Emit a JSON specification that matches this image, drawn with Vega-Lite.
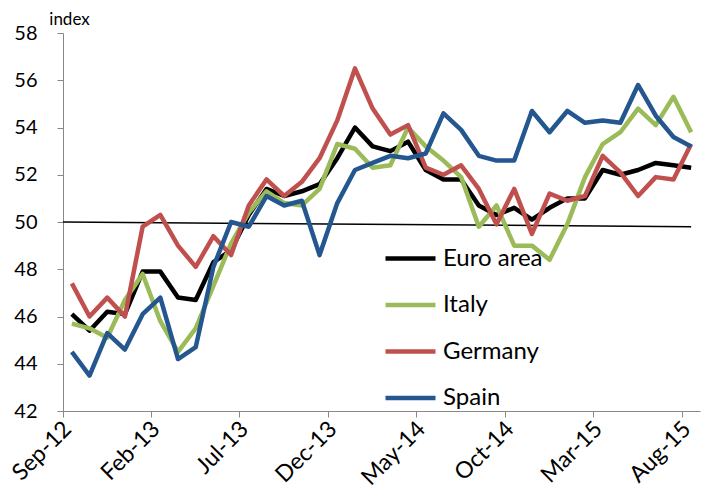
{
  "$schema": "https://vega.github.io/schema/vega-lite/v6.json",
  "width": 637,
  "height": 378,
  "autosize": "none",
  "padding": {"left": 63, "top": 33, "right": 2, "bottom": 92},
  "background": "white",
  "config": {"view": {"stroke": null}, "font": "Lato"},
  "datasets": {
    "pmi": [
      {"month": "Sep-12", "Euro area": 46.1, "Italy": 45.7, "Germany": 47.4, "Spain": 44.5},
      {"month": "Oct-12", "Euro area": 45.4, "Italy": 45.5, "Germany": 46.0, "Spain": 43.5},
      {"month": "Nov-12", "Euro area": 46.2, "Italy": 45.1, "Germany": 46.8, "Spain": 45.3},
      {"month": "Dec-12", "Euro area": 46.1, "Italy": 46.7, "Germany": 46.0, "Spain": 44.6},
      {"month": "Jan-13", "Euro area": 47.9, "Italy": 47.8, "Germany": 49.8, "Spain": 46.1},
      {"month": "Feb-13", "Euro area": 47.9, "Italy": 45.8, "Germany": 50.3, "Spain": 46.8},
      {"month": "Mar-13", "Euro area": 46.8, "Italy": 44.5, "Germany": 49.0, "Spain": 44.2},
      {"month": "Apr-13", "Euro area": 46.7, "Italy": 45.5, "Germany": 48.1, "Spain": 44.7},
      {"month": "May-13", "Euro area": 48.3, "Italy": 47.3, "Germany": 49.4, "Spain": 48.1},
      {"month": "Jun-13", "Euro area": 48.8, "Italy": 49.1, "Germany": 48.6, "Spain": 50.0},
      {"month": "Jul-13", "Euro area": 50.3, "Italy": 50.4, "Germany": 50.7, "Spain": 49.8},
      {"month": "Aug-13", "Euro area": 51.4, "Italy": 51.3, "Germany": 51.8, "Spain": 51.1},
      {"month": "Sep-13", "Euro area": 51.1, "Italy": 50.8, "Germany": 51.1, "Spain": 50.7},
      {"month": "Oct-13", "Euro area": 51.3, "Italy": 50.7, "Germany": 51.7, "Spain": 50.9},
      {"month": "Nov-13", "Euro area": 51.6, "Italy": 51.4, "Germany": 52.7, "Spain": 48.6},
      {"month": "Dec-13", "Euro area": 52.7, "Italy": 53.3, "Germany": 54.3, "Spain": 50.8},
      {"month": "Jan-14", "Euro area": 54.0, "Italy": 53.1, "Germany": 56.5, "Spain": 52.2},
      {"month": "Feb-14", "Euro area": 53.2, "Italy": 52.3, "Germany": 54.8, "Spain": 52.5},
      {"month": "Mar-14", "Euro area": 53.0, "Italy": 52.4, "Germany": 53.7, "Spain": 52.8},
      {"month": "Apr-14", "Euro area": 53.4, "Italy": 54.0, "Germany": 54.1, "Spain": 52.7},
      {"month": "May-14", "Euro area": 52.2, "Italy": 53.2, "Germany": 52.3, "Spain": 52.9},
      {"month": "Jun-14", "Euro area": 51.8, "Italy": 52.6, "Germany": 52.0, "Spain": 54.6},
      {"month": "Jul-14", "Euro area": 51.8, "Italy": 51.9, "Germany": 52.4, "Spain": 53.9},
      {"month": "Aug-14", "Euro area": 50.7, "Italy": 49.8, "Germany": 51.4, "Spain": 52.8},
      {"month": "Sep-14", "Euro area": 50.3, "Italy": 50.7, "Germany": 49.9, "Spain": 52.6},
      {"month": "Oct-14", "Euro area": 50.6, "Italy": 49.0, "Germany": 51.4, "Spain": 52.6},
      {"month": "Nov-14", "Euro area": 50.1, "Italy": 49.0, "Germany": 49.5, "Spain": 54.7},
      {"month": "Dec-14", "Euro area": 50.6, "Italy": 48.4, "Germany": 51.2, "Spain": 53.8},
      {"month": "Jan-15", "Euro area": 51.0, "Italy": 49.9, "Germany": 50.9, "Spain": 54.7},
      {"month": "Feb-15", "Euro area": 51.0, "Italy": 51.9, "Germany": 51.1, "Spain": 54.2},
      {"month": "Mar-15", "Euro area": 52.2, "Italy": 53.3, "Germany": 52.8, "Spain": 54.3},
      {"month": "Apr-15", "Euro area": 52.0, "Italy": 53.8, "Germany": 52.1, "Spain": 54.2},
      {"month": "May-15", "Euro area": 52.2, "Italy": 54.8, "Germany": 51.1, "Spain": 55.8},
      {"month": "Jun-15", "Euro area": 52.5, "Italy": 54.1, "Germany": 51.9, "Spain": 54.5},
      {"month": "Jul-15", "Euro area": 52.4, "Italy": 55.3, "Germany": 51.8, "Spain": 53.6},
      {"month": "Aug-15", "Euro area": 52.3, "Italy": 53.8, "Germany": 53.3, "Spain": 53.2}
    ],
    "ref": [
      {"month": "Sep-12", "month_end": "Aug-15", "level": 50.0, "level_end": 49.8}
    ]
  },
  "encoding": {
    "x": {
      "field": "month",
      "type": "ordinal",
      "scale": {
        "domain": ["Sep-12","Oct-12","Nov-12","Dec-12","Jan-13","Feb-13","Mar-13","Apr-13","May-13","Jun-13","Jul-13","Aug-13","Sep-13","Oct-13","Nov-13","Dec-13","Jan-14","Feb-14","Mar-14","Apr-14","May-14","Jun-14","Jul-14","Aug-14","Sep-14","Oct-14","Nov-14","Dec-14","Jan-15","Feb-15","Mar-15","Apr-15","May-15","Jun-15","Jul-15","Aug-15"],
        "paddingInner": 0,
        "paddingOuter": 0
      },
      "axis": {
        "title": null,
        "values": ["Sep-12","Feb-13","Jul-13","Dec-13","May-14","Oct-14","Mar-15","Aug-15"],
        "bandPosition": 0,
        "labelAngle": -45,
        "labelAlign": "right",
        "labelBaseline": "middle",
        "labelOffset": -4,
        "labelPadding": 8,
        "labelFontSize": 23,
        "labelColor": "#000000",
        "tickSize": 6,
        "tickColor": "#888888",
        "domainColor": "#888888",
        "labelOverlap": false
      }
    }
  },
  "layer": [
    {
      "data": {"name": "ref"},
      "mark": {"type": "rule", "color": "#000000", "strokeWidth": 1.5},
      "encoding": {
        "x": {"field": "month", "type": "ordinal", "bandPosition": 0},
        "x2": {"field": "month_end"},
        "y": {"field": "level", "type": "quantitative"},
        "y2": {"field": "level_end"}
      }
    },
    {
      "data": {"name": "pmi"},
      "transform": [
        {"fold": ["Euro area", "Italy", "Germany", "Spain"], "as": ["series", "value"]}
      ],
      "mark": {"type": "line", "strokeWidth": 4.5, "strokeJoin": "round"},
      "encoding": {
        "y": {
          "field": "value",
          "type": "quantitative",
          "scale": {"domain": [42, 58], "zero": false, "nice": false},
          "axis": {
            "title": "index",
            "titleAngle": 0,
            "titleX": 6,
            "titleY": -9,
            "titleAlign": "center",
            "titleBaseline": "alphabetic",
            "titleFontSize": 17,
            "titleFontWeight": "normal",
            "titleColor": "#000000",
            "values": [42, 44, 46, 48, 50, 52, 54, 56, 58],
            "grid": false,
            "tickSize": 6,
            "tickColor": "#888888",
            "domainColor": "#888888",
            "labelFontSize": 20,
            "labelColor": "#000000",
            "labelPadding": 20
          }
        },
        "color": {
          "field": "series",
          "type": "nominal",
          "scale": {
            "domain": ["Euro area", "Italy", "Germany", "Spain"],
            "range": ["#000000", "#9BBB59", "#C0504D", "#24568F"]
          },
          "legend": {
            "title": null,
            "orient": "none",
            "legendX": 320,
            "legendY": 198,
            "symbolType": "stroke",
            "symbolSize": 2500,
            "symbolStrokeWidth": 4.5,
            "labelFontSize": 24,
            "labelColor": "#000000",
            "labelOffset": 5,
            "rowPadding": 6.5
          }
        }
      }
    }
  ]
}
